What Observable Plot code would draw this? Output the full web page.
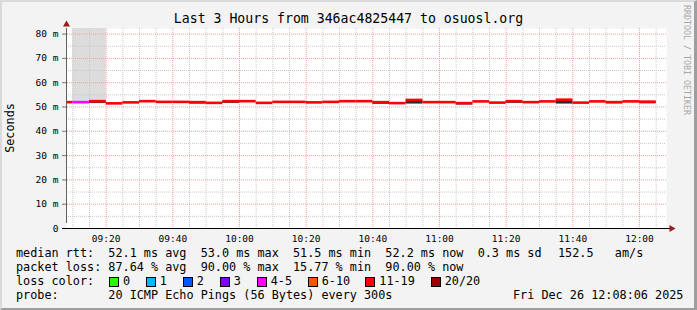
<!DOCTYPE html>
<html><head><meta charset="utf-8">
<script src="https://cdn.jsdelivr.net/npm/d3@7"></script>
<script src="https://cdn.jsdelivr.net/npm/@observablehq/plot@0.6"></script>
<style>
html,body{margin:0;padding:0;background:#f3f3f3;}
#wrap{position:relative;width:697px;height:310px;background:#f3f3f3;overflow:hidden;font-family:"DejaVu Sans Mono",monospace;color:#000;}
#wrap svg{position:absolute;left:0;top:0;}
.t{position:absolute;white-space:pre;line-height:14px;font-size:11.8px;}
.sw{position:absolute;width:10px;height:10px;box-sizing:border-box;border:1px solid #000;}
#border{position:absolute;left:0;top:0;width:697px;height:310px;box-sizing:border-box;border-style:solid;border-width:2px 3px 2px 2px;border-color:#dadada #9e9e9e #9e9e9e #dadada;pointer-events:none;}
</style></head><body><div id="wrap"></div>
<script>
// ---- data ----
const day = "2025-12-26";
const rangeStart = "09:08:06";
const rangeEnd = "12:08:06";
const intervalMinutes = 5;
const intervalStarts = ["09:05","09:10","09:15","09:20","09:25","09:30","09:35","09:40","09:45","09:50","09:55",
  "10:00","10:05","10:10","10:15","10:20","10:25","10:30","10:35","10:40","10:45","10:50","10:55",
  "11:00","11:05","11:10","11:15","11:20","11:25","11:30","11:35","11:40","11:45","11:50","11:55","12:00"];
const medianMs = [52.0,52.0,52.4,51.5,51.9,52.4,52.1,52.1,52.0,51.7,52.4,
  52.4,51.7,52.1,52.1,51.9,52.1,52.4,52.4,52.0,51.6,52.9,52.0,
  52.0,51.6,52.3,51.8,52.4,52.0,52.3,53.0,51.8,52.3,52.0,52.3,52.2];
const lossBin = ["11-19","4-5","11-19","11-19","11-19","11-19","11-19","11-19","11-19","11-19","11-19",
  "11-19","11-19","11-19","11-19","11-19","11-19","11-19","11-19","11-19","11-19","11-19","11-19",
  "11-19","11-19","11-19","11-19","11-19","11-19","11-19","11-19","11-19","11-19","11-19","11-19","11-19"];
const lossLabels = ["0","1","2","3","4-5","6-10","11-19","20/20"];
const lossColors = ["#26ff00","#00b8ff","#0059ff","#7e00ff","#ff00ff","#ff5500","#ff0000","#a10000"];
// light smoke (wide spread of ping values)
const wideSmokeStarts = ["09:10","09:15"];
const wideSmokeLo = [51.3, 51.3];
const wideSmokeHi = [90, 90];
// dark smoke (few pings) below the median
const darkSmokeStarts = ["09:15","09:45","09:55","10:40","10:50","11:05","11:20","11:35","11:50","12:00"];
const darkSmokeLo = [51.5,51.2,51.5,51.1,51.2,50.8,51.5,51.2,51.3,51.3];
const darkSmokeHi = [52.4,52.0,52.4,52.0,52.9,51.6,52.4,53.0,52.0,52.2];
const yUpper = 82.3;
const yTicks = [0,10,20,30,40,50,60,70,80];
const xTickLabels = ["09:20","09:40","10:00","10:20","10:40","11:00","11:20","11:40","12:00"];
const titleText = "Last 3 Hours from 346ac4825447 to osuosl.org";
const legendRtt = "median rtt:  52.1 ms avg  53.0 ms max  51.5 ms min  52.2 ms now  0.3 ms sd";
const legendRttRate = "152.5   am/s";
const legendLoss = "packet loss: 87.64 % avg  90.00 % max  15.77 % min  90.00 % now";
const legendProbe = "probe:       20 ICMP Echo Pings (56 Bytes) every 300s";
const legendDate = "Fri Dec 26 12:08:06 2025";

// ---- layout ----
const swatchX = [109,145.7,182.7,219.7,256.7,307.7,365.3,430.7];
const swatchLabelOffset = 14;

const parse = s => new Date(`${day}T${s.length === 5 ? s + ":00" : s}Z`);
const x0 = parse(rangeStart), xEnd = parse(rangeEnd);
const stepMs = intervalMinutes * 60000;
const colorOf = b => lossColors[lossLabels.indexOf(b)];
const series = intervalStarts.map((s, i) => ({
  start: new Date(Math.max(+parse(s), +x0)),
  end: new Date(Math.min(+parse(s) + stepMs, +xEnd)),
  median: medianMs[i], color: colorOf(lossBin[i])
}));
const wide = wideSmokeStarts.map((s, i) => ({start: parse(s), end: new Date(+parse(s) + stepMs), lo: wideSmokeLo[i], hi: Math.min(wideSmokeHi[i], yUpper)}));
const dark = darkSmokeStarts.map((s, i) => ({start: parse(s), end: new Date(+parse(s) + stepMs), lo: darkSmokeLo[i], hi: darkSmokeHi[i]}));
const vGrid = d3.utcMinute.every(intervalMinutes).range(x0, xEnd);
const vMajor = vGrid.filter(d => d.getUTCMinutes() % 20 === 0);
const vMinor = vGrid.filter(d => d.getUTCMinutes() % 20 !== 0);
const hGrid = d3.range(5, yUpper, 5);
const hMajor = hGrid.filter(d => d % 10 === 0);
const hMinor = hGrid.filter(d => d % 10 !== 0);
const xTicks = xTickLabels.map(parse);

const chart = Plot.plot({
  width: 697, height: 310,
  marginLeft: 66, marginRight: 31, marginTop: 28, marginBottom: 82,
  x: {type: "utc", domain: [x0, xEnd]},
  y: {domain: [0, yUpper]},
  style: {background: "transparent", fontFamily: "DejaVu Sans Mono", fontSize: "9.5px", overflow: "visible"},
  marks: [
    Plot.frame({fill: "#ffffff", stroke: "none"}),
    Plot.rect(wide, {x1: "start", x2: "end", y1: "lo", y2: "hi", fill: "#dcdcdc"}),
    Plot.ruleX(vMinor, {stroke: "#c8c8c8", strokeDasharray: "1,1"}),
    Plot.ruleY(hMinor, {stroke: "#c8c8c8", strokeDasharray: "1,1"}),
    Plot.ruleX(vMajor, {stroke: "#f0a0a0", strokeDasharray: "1,1"}),
    Plot.ruleY(hMajor, {stroke: "#f0a0a0", strokeDasharray: "1,1", insetLeft: -3}),
    Plot.rect(dark, {x1: "start", x2: "end", y1: "lo", y2: "hi", fill: "#2a2a2a"}),
    Plot.ruleY(series, {x1: "start", x2: "end", y: "median", stroke: "color", strokeWidth: 2.6}),
    Plot.axisY(yTicks, {tickFormat: d => d === 0 ? "0" : `${d} m`, tickSize: 4, tickPadding: 4, label: null, stroke: "#808080"}),
    Plot.axisX(xTicks, {tickFormat: d3.utcFormat("%H:%M"), tickSize: 0, tickPadding: 7, label: null}),
    Plot.ruleX([{x: x0, y1: 0, y2: yUpper}], {x: "x", y1: "y1", y2: "y2", stroke: "#606060", insetTop: -5}),
    Plot.ruleY([{y: 0, x1: x0, x2: xEnd}], {y: "y", x1: "x1", x2: "x2", stroke: "#000", insetLeft: -4, insetRight: -4}),
    Plot.dot([{x: x0, y: yUpper}], {x: "x", y: "y", symbol: "triangle", r: 2.6, fill: "#9b1b1b", stroke: "none", dy: -4}),
    Plot.dot([{x: xEnd, y: 0}], {x: "x", y: "y", symbol: "triangle", r: 2.6, fill: "#9b1b1b", stroke: "none", rotate: 90, dx: 5})
  ]
});
const wrap = document.getElementById("wrap");
wrap.appendChild(chart);

function addText(txt, left, top, css) {
  const d = document.createElement("div");
  d.className = "t"; d.textContent = txt;
  d.style.left = left + "px"; d.style.top = top + "px";
  if (css) Object.assign(d.style, css);
  wrap.appendChild(d);
  return d;
}
addText(titleText, 0, 11, {width: "697px", textAlign: "center", fontSize: "13.2px", lineHeight: "16px"});
addText("Seconds", -20, 121, {width: "60px", textAlign: "center", transform: "rotate(-90deg)"});
addText("RRDTOOL / TOBI OETIKER", 682, 5, {writingMode: "vertical-rl", fontSize: "8.3px", lineHeight: "10px", color: "#a8a8a8"});
addText(legendRtt, 16, 246);
addText(legendRttRate, 558, 246);
addText(legendLoss, 16, 260);
addText("loss color:", 16, 274);
lossLabels.forEach((lab, i) => {
  const s = document.createElement("div");
  s.className = "sw"; s.style.left = swatchX[i] + "px"; s.style.top = "277px"; s.style.background = lossColors[i];
  wrap.appendChild(s);
  addText(lab, swatchX[i] + swatchLabelOffset, 274);
});
addText(legendProbe, 16, 288);
addText(legendDate, 513, 288);
const b = document.createElement("div"); b.id = "border"; wrap.appendChild(b);
</script></body></html>
